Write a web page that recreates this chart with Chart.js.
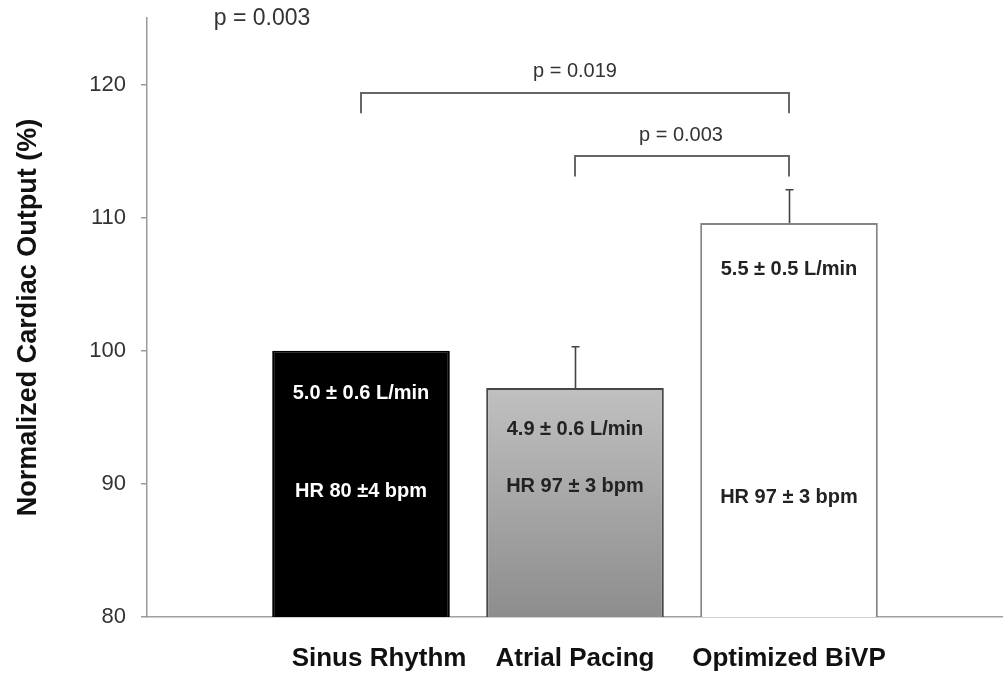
<!DOCTYPE html>
<html>
<head>
<meta charset="utf-8">
<script src="https://cdn.jsdelivr.net/npm/chart.js@4.4.1/dist/chart.umd.min.js"></script>
<style>
    html, body { margin: 0; padding: 0; background: #fff; }
    #wrap { width: 1003px; height: 677px; position: relative; }
</style>
</head>
<body>
<div id="wrap"><canvas id="coChart"></canvas></div>
<script>
// blank slots at both ends keep the bars off the y axis
const groups = ['', 'Sinus Rhythm', 'Atrial Pacing', 'Optimized BiVP', ''];
const normalizedCO = [null, 100, 97.2, 109.6, null];
const coError = [null, 0, 3.1, 2.5, null];
const cardiacOutput = [null, '5.0 ± 0.6 L/min', '4.9 ± 0.6 L/min', '5.5 ± 0.5 L/min', null];
const heartRate = [null, 'HR 80 ±4 bpm', 'HR 97 ± 3 bpm', 'HR 97 ± 3 bpm', null];
const comparisons = [
    { from: 1, to: 3, label: 'p = 0.019' },
    { from: 2, to: 3, label: 'p = 0.003' }
];
const overallP = 'p = 0.003';
const yTicks = [80, 90, 100, 110, 120];

const FONT = '"Liberation Sans", Arial, sans-serif';

function barFill(context) {
    const i = context.dataIndex;
    if (i === 1) return '#000000';
    if (i === 3) return '#ffffff';
    const chart = context.chart;
    const y = chart.scales.y;
    if (!y || !chart.chartArea) return '#a6a6a6';
    // atrial pacing bar fades from light to mid grey
    const g = chart.ctx.createLinearGradient(0, y.getPixelForValue(normalizedCO[2]), 0, y.getPixelForValue(80));
    g.addColorStop(0, '#c0c0c0');
    g.addColorStop(1, '#8d8d8d');
    return g;
}

// error bars, text inside bars and the significance brackets
const notesPlugin = {
    id: 'notes',
    afterDatasetsDraw(chart) {
        const ctx = chart.ctx;
        const x = chart.scales.x;
        const y = chart.scales.y;
        const px = i => x.getPixelForValue(i);
        const py = v => y.getPixelForValue(v);

        ctx.save();
        // error bars
        ctx.strokeStyle = '#444';
        ctx.lineWidth = 1.6;
        normalizedCO.forEach((v, i) => {
            if (v == null || !coError[i]) return;
            const cx = Math.round(px(i)) + 0.5;
            const top = py(v + coError[i]);
            ctx.beginPath();
            ctx.moveTo(cx, py(v));
            ctx.lineTo(cx, top);
            ctx.moveTo(cx - 4, top);
            ctx.lineTo(cx + 4, top);
            ctx.stroke();
        });

        // labels inside the bars
        const coY = [null, 96.8, 94.05, 106.1, null];
        const hrY = [null, 89.4, 89.8, 88.95, null];
        const textColor = [null, '#ffffff', '#222222', '#222222', null];
        ctx.font = 'bold 20px ' + FONT;
        ctx.textAlign = 'center';
        ctx.textBaseline = 'middle';
        normalizedCO.forEach((v, i) => {
            if (v == null) return;
            ctx.fillStyle = textColor[i];
            ctx.fillText(cardiacOutput[i], px(i), py(coY[i]));
            ctx.fillText(heartRate[i], px(i), py(hrY[i]));
        });

        // brackets
        const bracketTop = [119.35, 114.6];
        const bracketEnd = [117.85, 113.1];
        const labelY = [121.0, 116.2];
        ctx.strokeStyle = '#666';
        ctx.lineWidth = 2;
        ctx.fillStyle = '#333';
        ctx.font = '20px ' + FONT;
        comparisons.forEach((c, k) => {
            const x1 = px(c.from), x2 = px(c.to);
            const yt = Math.round(py(bracketTop[k])), ye = py(bracketEnd[k]);
            ctx.beginPath();
            ctx.moveTo(x1, ye);
            ctx.lineTo(x1, yt);
            ctx.lineTo(x2, yt);
            ctx.lineTo(x2, ye);
            ctx.stroke();
            const lx = k === 0 ? (x1 + x2) / 2 : (x1 + x2) / 2 - 1;
            ctx.fillText(c.label, lx, py(labelY[k]));
        });

        ctx.font = '23px ' + FONT;
        ctx.fillText(overallP, 262, py(125) + 1);
        ctx.restore();
    }
};

new Chart(document.getElementById('coChart'), {
    type: 'bar',
    data: {
        labels: groups,
        datasets: [{
            data: normalizedCO,
            backgroundColor: barFill,
            borderColor: [null, '#000000', '#474747', '#858585', null],
            borderWidth: 2,
            borderSkipped: 'bottom',
            categoryPercentage: 1,
            barPercentage: 0.83
        }]
    },
    options: {
        responsive: true,
        maintainAspectRatio: false,
        animation: false,
        layout: { padding: { top: 18, right: 0, bottom: 0, left: 0 } },
        plugins: {
            legend: { display: false },
            tooltip: { enabled: false }
        },
        scales: {
            x: {
                type: 'category',
                offset: false,
                grid: {
                    display: true,
                    drawOnChartArea: false,
                    drawTicks: true,
                    tickLength: 6,
                    lineWidth: 1.5,
                    color: ctx => ctx.index === 0 ? '#9a9a9a' : 'rgba(0,0,0,0)'
                },
                border: { display: true, color: '#a0a0a0', width: 1.5 },
                ticks: {
                    color: '#111',
                    padding: 20,
                    maxRotation: 0,
                    autoSkip: false,
                    font: { family: FONT, size: 26, weight: 'bold' },
                    // first label sits a little right of its bar
                    callback(value, index) {
                        const label = this.getLabelForValue(value);
                        return index === 1 ? '     ' + label : label;
                    }
                },
                afterFit(scale) {
                    scale.height = 60;
                    scale.paddingLeft = 0;
                    scale.paddingRight = 0;
                }
            },
            y: {
                min: 80,
                max: 125,
                grid: {
                    display: true,
                    drawOnChartArea: false,
                    tickLength: 6,
                    lineWidth: 1.5,
                    color: '#9a9a9a'
                },
                border: { display: true, color: '#9a9a9a', width: 1.5 },
                ticks: {
                    color: '#333',
                    padding: 15,
                    font: { family: FONT, size: 22 }
                },
                afterBuildTicks(scale) {
                    scale.ticks = yTicks.map(v => ({ value: v }));
                },
                afterFit(scale) {
                    scale.width = 147;
                    scale.paddingTop = 0;
                    scale.paddingBottom = 0;
                },
                title: {
                    display: true,
                    text: 'Normalized Cardiac Output (%)',
                    color: '#111',
                    padding: { top: 12, bottom: 0 },
                    font: { family: FONT, size: 27, weight: 'bold' }
                }
            }
        }
    },
    plugins: [notesPlugin]
});
</script>
</body>
</html>
